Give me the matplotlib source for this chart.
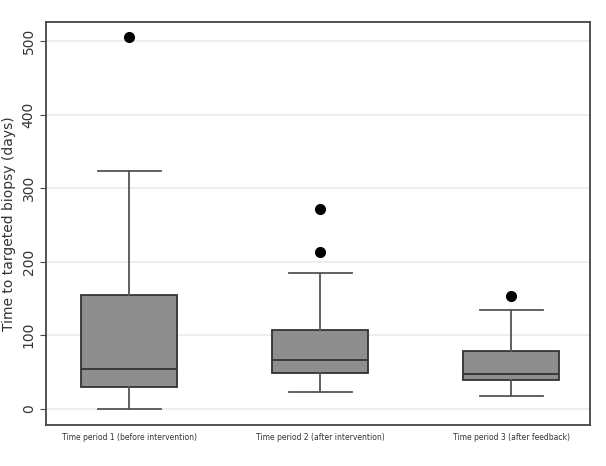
import matplotlib.pyplot as plt

# Box statistics (days)
periods = ['Time period 1 (before intervention)',
           'Time period 2 (after intervention)',
           'Time period 3 (after feedback)']
q1 = [30, 49, 39]
medians = [54, 67, 48]
q3 = [155, 107, 78]
whisker_low = [0, 23, 17]
whisker_high = [323, 184, 135]
outliers = [[505], [271, 213], [154]]

stats = []
for i in range(len(periods)):
    stats.append({'label': periods[i], 'q1': q1[i], 'med': medians[i], 'q3': q3[i],
                  'whislo': whisker_low[i], 'whishi': whisker_high[i],
                  'fliers': outliers[i]})

fig = plt.figure(figsize=(6.06, 4.66), dpi=100)
ax = fig.add_axes([0.076, 0.088, 0.898, 0.865])

ax.bxp(stats, positions=[1, 2, 3], widths=0.5, capwidths=0.33, patch_artist=True,
       boxprops=dict(facecolor='#8e8e8e', edgecolor='#333333', linewidth=1.3),
       medianprops=dict(color='#333333', linewidth=1.3),
       whiskerprops=dict(color='#555555', linewidth=1.3),
       capprops=dict(color='#555555', linewidth=1.3),
       flierprops=dict(marker='o', markerfacecolor='black', markeredgecolor='black',
                       markersize=7))

ax.set_xlim(0.565, 3.414)
ax.set_ylim(-22, 526)
ax.set_yticks([0, 100, 200, 300, 400, 500])
ax.set_yticklabels(['0', '100', '200', '300', '400', '500'], rotation=90, va='center',
                   fontsize=10, color='#333333')
ax.tick_params(axis='x', length=0, labelsize=5.5, labelcolor='#333333', pad=6)
ax.tick_params(axis='y', length=4, color='#444444')
ax.yaxis.grid(True, color='#ebebeb', linewidth=1.2)
ax.set_axisbelow(True)
for s in ax.spines.values():
    s.set_color('#444444')
    s.set_linewidth(1.3)

ax.set_ylabel('Time to targeted biopsy (days)', fontsize=10, color='#333333')

plt.savefig('out.png', dpi=100)
